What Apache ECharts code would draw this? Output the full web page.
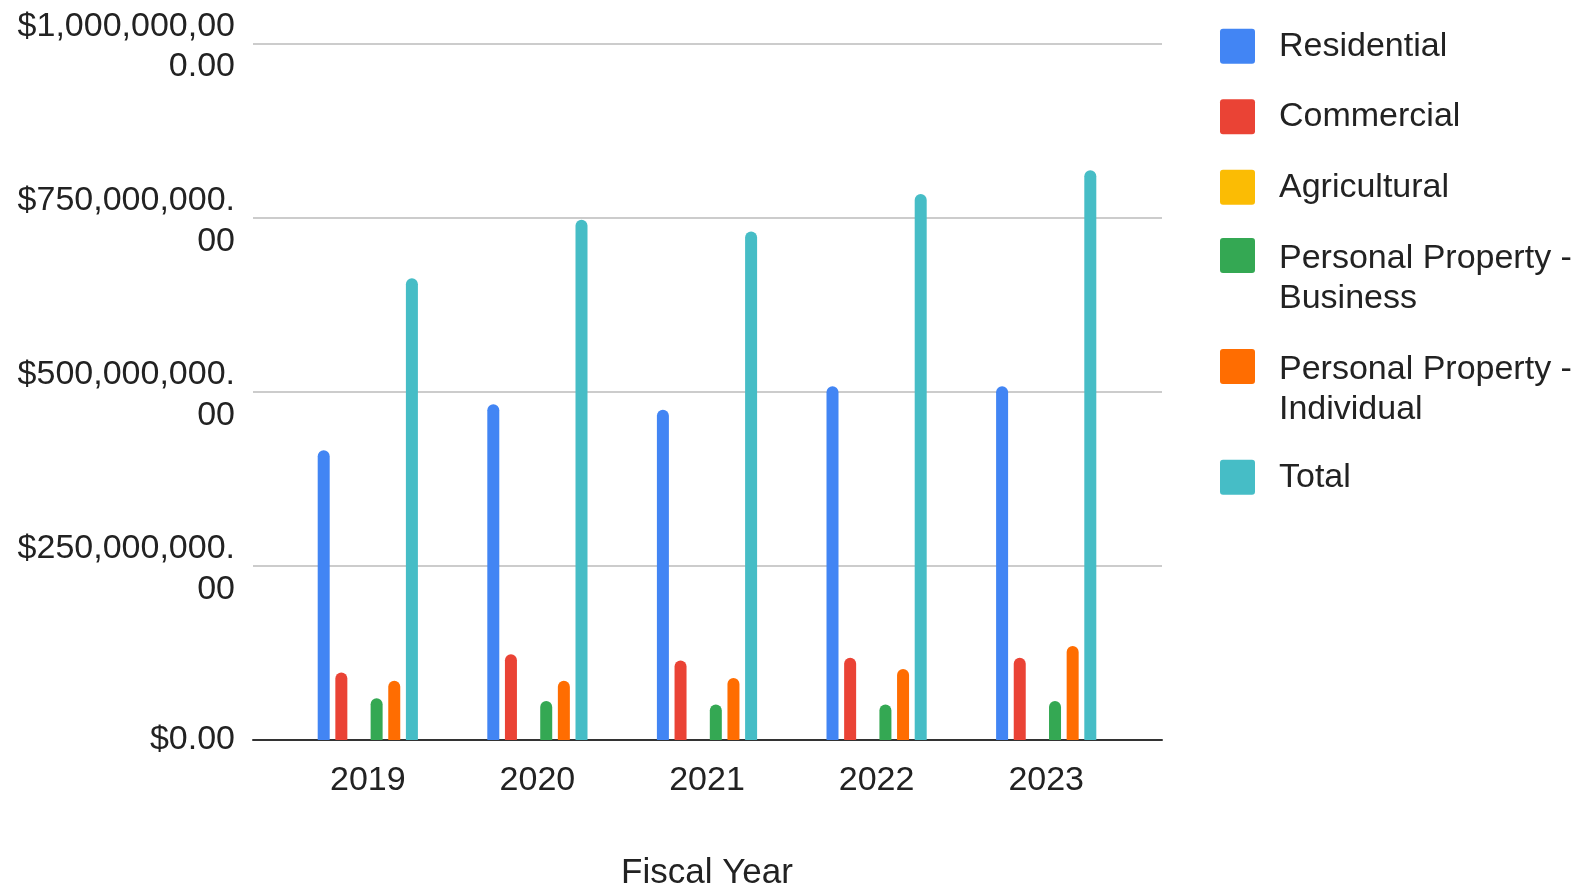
<!DOCTYPE html>
<html>
<head>
<meta charset="utf-8">
<script src="https://cdn.jsdelivr.net/npm/echarts@6/dist/echarts.min.js"></script>
<style>
html,body{margin:0;padding:0;background:#fff;}
#chart{width:1588px;height:885px;}
</style>
</head>
<body>
<div id="chart"></div>
<script>
const years = ['2019', '2020', '2021', '2022', '2023'];
const seriesNames = ['Residential', 'Commercial', 'Agricultural', 'Personal Property - Business', 'Personal Property - Individual', 'Total'];
const residential = [416000000, 482000000, 474000000, 508000000, 508000000];
const commercial = [97000000, 123000000, 114000000, 118000000, 118000000];
const agricultural = [0, 0, 0, 0, 0];
const ppBusiness = [60000000, 56000000, 51000000, 51000000, 56000000];
const ppIndividual = [85000000, 85000000, 89000000, 102000000, 135000000];
const total = [663000000, 747000000, 730000000, 784000000, 818000000];
const yTickValues = [0, 250000000, 500000000, 750000000, 1000000000];
const yTickLabels = ['$0.00', '$250,000,000.00', '$500,000,000.00', '$750,000,000.00', '$1,000,000,000.00'];

const colors = ['#4285F4', '#EA4335', '#FBBC04', '#34A853', '#FF6D01', '#46BDC6'];
const seriesData = [residential, commercial, agricultural, ppBusiness, ppIndividual, total];
const FONT = 'Liberation Sans, Arial, sans-serif';
const TXT = '#222222';

function wrapLabel(s) {
  const parts = [];
  for (let i = 0; i < s.length; i += 13) parts.push(s.slice(i, i + 13));
  if (parts.length === 1) return '{s|' + parts[0] + '}';
  return '{a|' + parts[0] + '}\n{b|' + parts.slice(1).join('') + '}';
}
function legendLabel(name) {
  return name.replace(' - ', ' -\n');
}

const sq = 'path://M3,0H32Q35,0 35,3V32Q35,35 32,35H3Q0,35 0,32V3Q0,0 3,0Z';
const sqTall = 'path://M3,0H32Q35,0 35,3V32Q35,35 32,35H3Q0,35 0,32V3Q0,0 3,0Z M0,81L35,81';

const legendCommon = {
  orient: 'vertical',
  left: 1220,
  padding: 0,
  itemWidth: 35,
  itemGap: 30,
  selectedMode: false,
  itemStyle: { borderWidth: 0 },
  textStyle: { fontFamily: FONT, fontSize: 34, lineHeight: 40.5, color: TXT, padding: [0, 0, 0, 19] },
  formatter: legendLabel
};

const yLabelFont = { fontFamily: FONT, fontSize: 34, color: TXT, align: 'right' };

const chart = echarts.init(document.getElementById('chart'), null, { renderer: 'canvas' });
chart.setOption({
  animation: false,
  backgroundColor: '#ffffff',
  color: colors,
  legend: [
    Object.assign({}, legendCommon, { top: 26, itemHeight: 35, icon: sq, data: seriesNames.slice(0, 3) }),
    Object.assign({}, legendCommon, { top: 238, itemHeight: 81, icon: sqTall, data: seriesNames.slice(3, 5) }),
    Object.assign({}, legendCommon, { top: 457, itemHeight: 35, icon: sq, data: seriesNames.slice(5) })
  ],
  grid: [
    { left: 253, width: 909, top: 43.5, height: 696.5, containLabel: false, outerBoundsMode: 'none' },
    { left: 283, width: 848, top: 43.5, height: 696.5, containLabel: false, outerBoundsMode: 'none' }
  ],
  xAxis: [
    {
      gridIndex: 0, type: 'value', min: 0, max: 1,
      axisLine: { show: true, onZero: false, lineStyle: { color: '#333333', width: 2 } },
      axisTick: { show: false }, axisLabel: { show: false }, splitLine: { show: false }
    },
    {
      gridIndex: 1, type: 'category', data: years,
      axisLine: { show: false }, axisTick: { show: false },
      axisLabel: { fontFamily: FONT, fontSize: 34, lineHeight: 34, color: TXT, margin: 24 },
      name: 'Fiscal Year', nameLocation: 'middle', nameGap: 115.5,
      nameTextStyle: { fontFamily: FONT, fontSize: 35, lineHeight: 35, color: TXT }
    }
  ],
  yAxis: [
    {
      gridIndex: 0, type: 'value', min: 0, max: 1000000000, interval: 250000000,
      axisLine: { show: false }, axisTick: { show: false },
      splitLine: { show: true, lineStyle: { color: '#cccccc', width: 2 } },
      axisLabel: {
        fontFamily: FONT, fontSize: 34, color: TXT, margin: 18,
        rich: {
          a: Object.assign({ lineHeight: 47 }, yLabelFont),
          b: Object.assign({ lineHeight: 34 }, yLabelFont),
          s: Object.assign({ lineHeight: 36 }, yLabelFont)
        },
        formatter: function (v) {
          const i = yTickValues.indexOf(v);
          return i >= 0 ? wrapLabel(yTickLabels[i]) : '';
        }
      }
    },
    {
      gridIndex: 1, type: 'value', min: 0, max: 1000000000, interval: 250000000,
      show: false, splitLine: { show: false }
    }
  ],
  series: seriesNames.map(function (name, i) {
    return {
      name: name,
      type: 'bar',
      xAxisIndex: 1,
      yAxisIndex: 1,
      data: seriesData[i],
      barWidth: 12,
      barGap: '47%',
      itemStyle: { color: colors[i], borderRadius: [6, 6, 0, 0] }
    };
  })
});
</script>
</body>
</html>
